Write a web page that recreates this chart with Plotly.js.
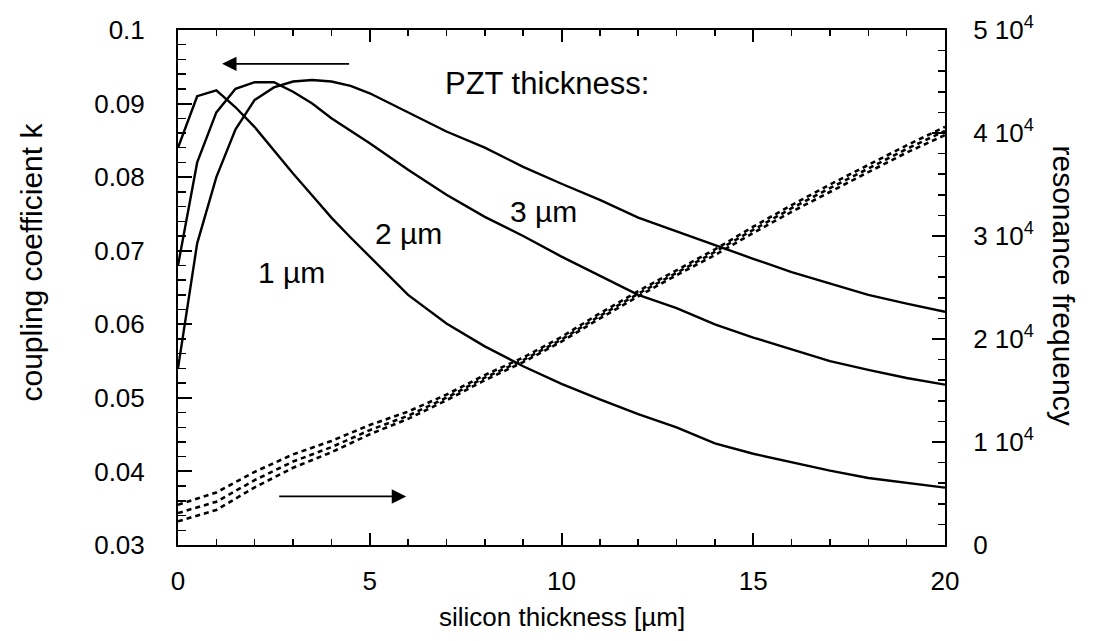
<!DOCTYPE html>
<html>
<head>
<meta charset="utf-8">
<script src="https://cdn.plot.ly/plotly-3.0.1.min.js"></script>
<style>html,body{margin:0;padding:0;background:#fff;}#chart{width:1093px;height:641px;}</style>
</head>
<body>
<div id="chart"></div>
<script>
// silicon thickness [µm] for coupling curves
const xK = [0, 0.5, 1, 1.5, 2, 2.5, 3, 3.5, 4, 4.5, 5, 6, 7, 8, 9, 10, 11, 12, 13, 14, 15, 16, 17, 18, 19, 20];
// coupling coefficient k, PZT thickness 1 µm / 2 µm / 3 µm
const k1 = [0.084, 0.091, 0.0918, 0.0895, 0.0868, 0.0836, 0.0805, 0.0775, 0.0745, 0.0718, 0.0692, 0.0640, 0.0601, 0.0570, 0.0543, 0.0519, 0.0498, 0.0478, 0.0460, 0.0438, 0.0424, 0.0412, 0.0401, 0.0391, 0.0384, 0.0378];
const k2 = [0.068, 0.082, 0.0888, 0.0920, 0.0929, 0.0929, 0.0916, 0.0900, 0.0880, 0.0863, 0.0846, 0.0810, 0.0776, 0.0746, 0.0720, 0.0692, 0.0666, 0.0640, 0.0622, 0.0600, 0.0582, 0.0566, 0.0550, 0.0538, 0.0527, 0.0518];
const k3 = [0.054, 0.071, 0.0800, 0.0865, 0.0905, 0.0922, 0.0930, 0.0932, 0.0930, 0.0924, 0.0914, 0.0888, 0.0862, 0.0840, 0.0814, 0.0791, 0.0769, 0.0745, 0.0726, 0.0707, 0.0689, 0.0671, 0.0655, 0.0640, 0.0628, 0.0617];

// silicon thickness [µm] for resonance frequency curves
const xF = [0, 1, 2, 3, 4, 5, 6, 7, 8, 9, 10, 11, 12, 13, 14, 15, 16, 17, 18, 19, 20];
// resonance frequency (three PZT thicknesses)
const fA = [3900, 5100, 7100, 8800, 10100, 11650, 12950, 14600, 16500, 18200, 20200, 22500, 24650, 26700, 28700, 30900, 33000, 35000, 36900, 38800, 40600];
const fB = [3100, 4200, 6300, 8100, 9500, 11150, 12550, 14300, 16250, 17950, 19950, 22250, 24400, 26450, 28450, 30600, 32700, 34650, 36550, 38450, 40200];
const fC = [2300, 3400, 5600, 7500, 9000, 10750, 12250, 14050, 16000, 17750, 19750, 22000, 24150, 26200, 28150, 30300, 32350, 34300, 36200, 38100, 39800];

// tick labels
const xTicks = [0, 5, 10, 15, 20];
const yTicks = [0.03, 0.04, 0.05, 0.06, 0.07, 0.08, 0.09, 0.1];
const yTickText = ["0.03", "0.04", "0.05", "0.06", "0.07", "0.08", "0.09", "0.1"];
const yMinor = [0.032,0.034,0.036,0.038,0.042,0.044,0.046,0.048,0.052,0.054,0.056,0.058,0.062,0.064,0.066,0.068,0.072,0.074,0.076,0.078,0.082,0.084,0.086,0.088,0.092,0.094,0.096,0.098];
const y2Ticks = [0, 10000, 20000, 30000, 40000, 50000];
const y2TickText = ["0", "1 10<sup>4</sup>", "2 10<sup>4</sup>", "3 10<sup>4</sup>", "4 10<sup>4</sup>", "5 10<sup>4</sup>"];

const FONT = "Liberation Sans, Arial, Helvetica, sans-serif";
const solid = {color: "#000", width: 2.4};
const dashed = {color: "#000", width: 2.6, dash: "5px,4px"};

const traces = [
  {x: xK, y: k1, mode: "lines", line: solid, name: "1 µm"},
  {x: xK, y: k2, mode: "lines", line: solid, name: "2 µm"},
  {x: xK, y: k3, mode: "lines", line: solid, name: "3 µm"},
  {x: xF, y: fA, yaxis: "y2", mode: "lines", line: dashed, name: "f A"},
  {x: xF, y: fB, yaxis: "y2", mode: "lines", line: dashed, name: "f B"},
  {x: xF, y: fC, yaxis: "y2", mode: "lines", line: dashed, name: "f C"}
];

const TS = 26;
const layout = {
  width: 1093, height: 641,
  margin: {l: 178, r: 148, t: 30, b: 96},
  paper_bgcolor: "#fff", plot_bgcolor: "#fff",
  showlegend: false,
  font: {family: FONT, size: TS, color: "#000"},
  xaxis: {
    range: [0, 20], tickvals: xTicks, ticks: "inside", ticklen: 12, tickwidth: 2, tickcolor: "#000",
    minor: {dtick: 1, ticks: "inside", ticklen: 6, tickwidth: 1.5, tickcolor: "#000"},
    showline: true, linewidth: 2, linecolor: "#000", mirror: "ticks", showgrid: false, zeroline: false,
    ticklabelstandoff: 12, tickfont: {size: TS}
  },
  yaxis: {
    range: [0.03, 0.1], tickvals: yTicks, ticktext: yTickText, ticks: "inside", ticklen: 14, tickwidth: 2, tickcolor: "#000",
    minor: {tickvals: yMinor, ticks: "inside", ticklen: 8, tickwidth: 1.5, tickcolor: "#000"},
    showline: true, linewidth: 2, linecolor: "#000", showgrid: false, zeroline: false,
    ticklabelstandoff: 26, tickfont: {size: TS}
  },
  yaxis2: {
    overlaying: "y", side: "right", range: [0, 50000], tickvals: y2Ticks, ticktext: y2TickText,
    ticks: "inside", ticklen: 13, tickwidth: 2, tickcolor: "#000",
    minor: {dtick: 2000, ticks: "inside", ticklen: 7, tickwidth: 1.5, tickcolor: "#000"},
    showline: true, linewidth: 2, linecolor: "#000", showgrid: false, zeroline: false,
    ticklabelstandoff: 21, tickfont: {size: TS}
  },
  annotations: [
    {x: 0.5, xref: "paper", y: 0, yref: "paper", text: "silicon thickness [µm]", showarrow: false, font: {size: TS}, xanchor: "center", yanchor: "middle", yshift: -72},
    {x: 0, xref: "paper", y: 0.5, yref: "paper", text: "coupling coefficient k", showarrow: false, textangle: -90, font: {size: 30}, xanchor: "center", yanchor: "middle", xshift: -147, yshift: 25},
    {x: 1, xref: "paper", y: 0.5, yref: "paper", text: "resonance frequency", showarrow: false, textangle: 90, font: {size: 30}, xanchor: "center", yanchor: "middle", xshift: 118, yshift: 2},
    {x: 9.62, y: 0.0927, xref: "x", yref: "y", text: "PZT thickness:", showarrow: false, font: {size: 31}},
    {x: 2.97, y: 0.0671, xref: "x", yref: "y", text: "1 µm", showarrow: false, font: {size: 30}},
    {x: 6.0, y: 0.0724, xref: "x", yref: "y", text: "2 µm", showarrow: false, font: {size: 30}},
    {x: 9.52, y: 0.0753, xref: "x", yref: "y", text: "3 µm", showarrow: false, font: {size: 30}},
    {x: 1.15, y: 0.0954, ax: 4.5, ay: 0.0954, xref: "x", yref: "y", axref: "x", ayref: "y", text: "", showarrow: true, arrowhead: 2, arrowsize: 1.6, arrowwidth: 1.8, arrowcolor: "#000"},
    {x: 5.95, y: 0.0366, ax: 2.6, ay: 0.0366, xref: "x", yref: "y", axref: "x", ayref: "y", text: "", showarrow: true, arrowhead: 2, arrowsize: 1.6, arrowwidth: 1.8, arrowcolor: "#000"}
  ]
};

Plotly.newPlot("chart", traces, layout, {displayModeBar: false, staticPlot: true});
</script>
</body>
</html>
